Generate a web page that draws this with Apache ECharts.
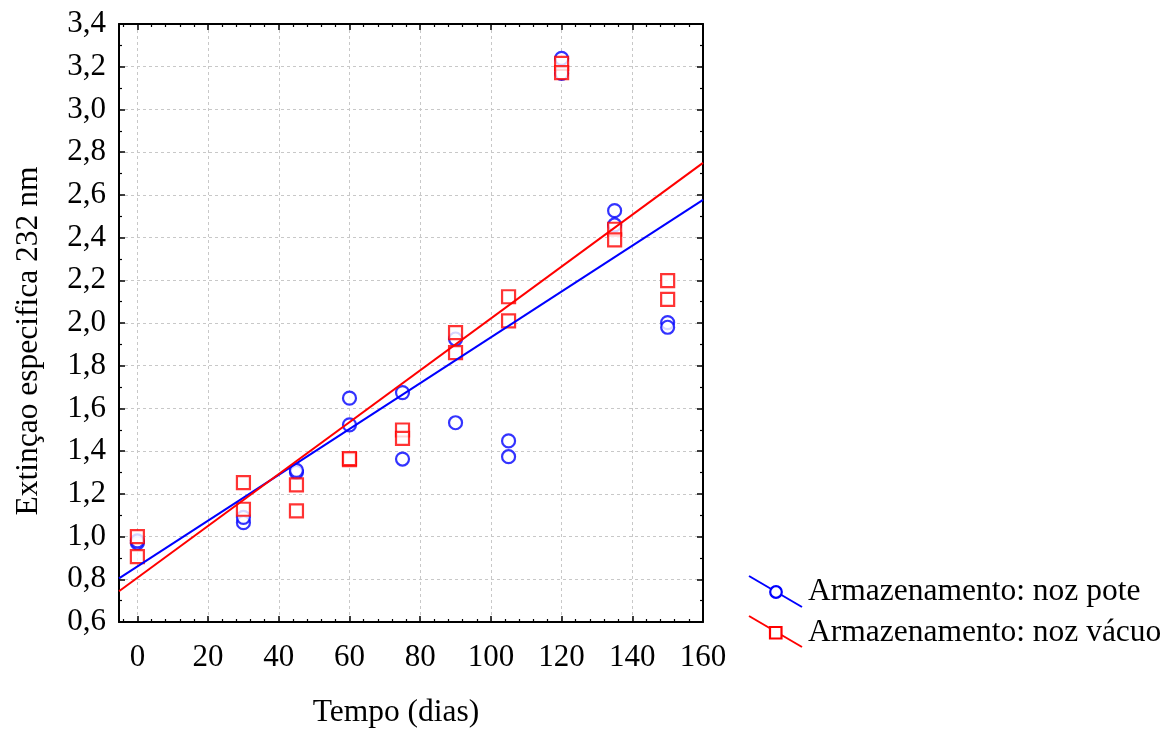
<!DOCTYPE html>
<html>
<head>
<meta charset="utf-8">
<title>Extinção específica 232 nm</title>
<script src="https://cdn.jsdelivr.net/npm/echarts@6/dist/echarts.min.js"></script>
<style>
  html, body { margin: 0; padding: 0; background: #ffffff; }
  #chart { width: 1165px; height: 729px; }
</style>
</head>
<body>
<div id="chart"></div>
<script>
// Storage time (days) for each sample, two replicates per time point
const days = [0, 0, 30, 30, 45, 45, 60, 60, 75, 75, 90, 90, 105, 105, 120, 120, 135, 135, 150, 150];

// Specific extinction at 232 nm, walnuts stored in jars
const notePote = [0.97, 0.98, 1.065, 1.09, 1.30, 1.31, 1.648, 1.523, 1.674, 1.363,
                  1.533, 1.925, 1.448, 1.374, 3.239, 3.169, 2.526, 2.459, 2.002, 1.98];

// Specific extinction at 232 nm, vacuum-packed walnuts
const noteVacuo = [1.0, 0.906, 1.253, 1.128, 1.242, 1.12, 1.36, 1.365, 1.499, 1.46,
                   1.955, 1.861, 2.123, 2.01, 3.216, 3.172, 2.439, 2.389, 2.198, 2.111];

const seriesNames = ['Armazenamento: noz pote', 'Armazenamento: noz vácuo'];
const xTitle = 'Tempo (dias)';
const yTitle = 'Extinçao especifica 232 nm';

const X_MIN = -5.2, X_MAX = 160;
const Y_MIN = 0.6, Y_MAX = 3.4, Y_STEP = 0.2;

const BLUE = '#0000ff';
const RED = '#ff0000';
const FONT = '"Liberation Serif", "Times New Roman", serif';
const FS = 31;      // tick labels
const FS_T = 31.5;  // titles and legend

// Ordinary least-squares line through (x, y)
function linearFit(xs, ys) {
  const n = xs.length;
  const mx = xs.reduce((a, b) => a + b, 0) / n;
  const my = ys.reduce((a, b) => a + b, 0) / n;
  let sxy = 0, sxx = 0;
  for (let i = 0; i < n; i++) {
    sxy += (xs[i] - mx) * (ys[i] - my);
    sxx += (xs[i] - mx) * (xs[i] - mx);
  }
  const slope = sxy / sxx;
  return { slope, intercept: my - slope * mx };
}

function fitLine(ys) {
  const f = linearFit(days, ys);
  return [X_MIN, X_MAX].map(x => [x, f.intercept + f.slope * x]);
}

const pairs = ys => days.map((d, i) => [d, ys[i]]);

const axisLine = { show: true, onZero: false, lineStyle: { color: '#000', width: 2 } };
const tick = { show: true, inside: true, length: 6, lineStyle: { color: '#000', width: 1.5 } };
const minor = n => ({ show: true, splitNumber: n, length: 3, lineStyle: { color: '#000', width: 1.2 } });
const grid = { show: true, lineStyle: { color: '#c8c8c8', type: [3, 3], width: 1 } };

// Only label whole multiples of 20 on the time axis
const isMajor = v => Math.abs(v / 20 - Math.round(v / 20)) < 1e-9;

const chart = echarts.init(document.getElementById('chart'), null, { renderer: 'canvas' });

chart.setOption({
  animation: false,
  backgroundColor: '#ffffff',
  grid: { left: 119, top: 24, right: 462, bottom: 107, containLabel: false },
  xAxis: [
    {
      type: 'value', position: 'bottom', min: X_MIN, max: X_MAX, splitNumber: 8,
      axisLine, axisTick: tick, minorTick: minor(5), splitLine: grid,
      axisLabel: {
        show: true, margin: 20, color: '#000', fontFamily: FONT, fontSize: FS,
        formatter: v => (isMajor(v) ? String(v) : '')
      }
    },
    {
      type: 'value', position: 'top', min: X_MIN, max: X_MAX, splitNumber: 8,
      axisLine, axisTick: tick, minorTick: minor(5), splitLine: { show: false },
      axisLabel: { show: false }
    }
  ],
  yAxis: [
    {
      type: 'value', position: 'left', min: Y_MIN, max: Y_MAX, interval: Y_STEP,
      axisLine, axisTick: tick, minorTick: minor(2), splitLine: grid,
      axisLabel: {
        show: true, margin: 13, color: '#000', fontFamily: FONT, fontSize: FS,
        formatter: v => v.toFixed(1).replace('.', ',')
      }
    },
    {
      type: 'value', position: 'right', min: Y_MIN, max: Y_MAX, interval: Y_STEP,
      axisLine, axisTick: tick, minorTick: minor(2), splitLine: { show: false },
      axisLabel: { show: false }
    }
  ],
  series: [
    {
      name: seriesNames[0], type: 'scatter', data: pairs(notePote),
      symbol: 'circle', symbolSize: 13, z: 3,
      itemStyle: { color: '#ffffff', borderColor: BLUE, borderWidth: 2.2 }
    },
    {
      name: seriesNames[1], type: 'scatter', data: pairs(noteVacuo),
      symbol: 'rect', symbolSize: 13, z: 4,
      itemStyle: { color: '#ffffff', borderColor: RED, borderWidth: 2.2 }
    },
    {
      name: seriesNames[0] + ' (ajuste)', type: 'line', data: fitLine(notePote),
      showSymbol: false, symbol: 'none', clip: true, z: 5,
      lineStyle: { color: BLUE, width: 2 }
    },
    {
      name: seriesNames[1] + ' (ajuste)', type: 'line', data: fitLine(noteVacuo),
      showSymbol: false, symbol: 'none', clip: true, z: 6,
      lineStyle: { color: RED, width: 2 }
    }
  ],
  graphic: [
    // axis titles
    {
      type: 'text', x: 396, y: 713,
      style: { text: xTitle, fill: '#000', font: `${FS_T}px ${FONT}`, align: 'center', verticalAlign: 'middle' }
    },
    {
      type: 'text', x: 29, y: 341, rotation: Math.PI / 2,
      style: { text: yTitle, fill: '#000', font: `${FS_T}px ${FONT}`, align: 'center', verticalAlign: 'middle' }
    },
    // legend: jar storage
    {
      type: 'line', shape: { x1: 749, y1: 576, x2: 802, y2: 607 },
      style: { stroke: BLUE, lineWidth: 2 }
    },
    {
      type: 'circle', shape: { cx: 776, cy: 592, r: 5.8 },
      style: { fill: '#ffffff', stroke: BLUE, lineWidth: 2.2 }
    },
    {
      type: 'text', x: 808, y: 592,
      style: { text: seriesNames[0], fill: '#000', font: `${FS_T}px ${FONT}`, align: 'left', verticalAlign: 'middle' }
    },
    // legend: vacuum storage
    {
      type: 'line', shape: { x1: 749, y1: 616, x2: 802, y2: 647 },
      style: { stroke: RED, lineWidth: 2 }
    },
    {
      type: 'rect', shape: { x: 770, y: 627, width: 11.5, height: 11.5 },
      style: { fill: '#ffffff', stroke: RED, lineWidth: 2.2 }
    },
    {
      type: 'text', x: 808, y: 633,
      style: { text: seriesNames[1], fill: '#000', font: `${FS_T}px ${FONT}`, align: 'left', verticalAlign: 'middle' }
    }
  ]
});
</script>
</body>
</html>
